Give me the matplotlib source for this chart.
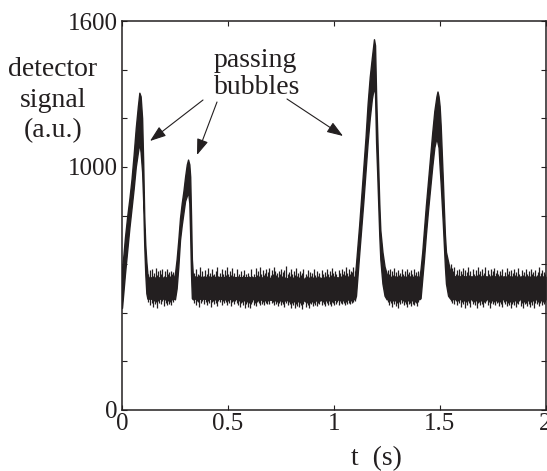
import numpy as np
import matplotlib
matplotlib.use("Agg")
import matplotlib.pyplot as plt

plt.rcParams['font.family'] = ['Liberation Serif', 'DejaVu Serif']

INK = '#231f20'

# ---------------- data ----------------
# dense band of the noisy detector trace: upper / lower edge
# bubble 1
t_pk1 = [0.000, 0.007, 0.014, 0.025, 0.035, 0.045, 0.055, 0.065, 0.075, 0.082,
         0.088, 0.095, 0.100, 0.105, 0.110, 0.115, 0.120]
hi_pk1 = [580, 640, 710, 800, 870, 950, 1050, 1160, 1250, 1305,
          1290, 1200, 1020, 800, 680, 610, 560]
lo_pk1 = [420, 490, 560, 660, 750, 830, 910, 1000, 1060, 1100,
          1060, 980, 860, 680, 560, 480, 458]
# baseline between bubbles (core of the band)
t_core1 = [0.125, 0.245]
hi_core1 = [545, 545]
lo_core1 = [458, 458]
# bubble 2
t_pk2 = [0.250, 0.258, 0.266, 0.274, 0.282, 0.290, 0.298, 0.306, 0.312, 0.318,
         0.322, 0.326, 0.330, 0.335]
hi_pk2 = [560, 620, 700, 790, 850, 900, 960, 1010, 1030, 1010,
          960, 800, 620, 550]
lo_pk2 = [455, 500, 590, 700, 760, 810, 860, 880, 900, 850,
          720, 560, 460, 455]
t_core2 = [0.34, 0.60, 0.85, 1.10]
hi_core2 = [548, 546, 540, 548]
lo_core2 = [458, 456, 450, 456]
# bubble 3
t_pk3 = [1.105, 1.120, 1.130, 1.140, 1.150, 1.160, 1.170, 1.180, 1.190, 1.195,
         1.200, 1.205, 1.210, 1.215, 1.220, 1.230, 1.240, 1.250]
hi_pk3 = [600, 760, 880, 1000, 1120, 1260, 1370, 1450, 1525, 1500,
          1300, 1150, 1000, 850, 740, 650, 590, 560]
lo_pk3 = [470, 640, 750, 860, 980, 1100, 1200, 1280, 1330, 1300,
          1100, 980, 850, 720, 620, 520, 470, 455]
t_core3 = [1.255, 1.405]
hi_core3 = [548, 548]
lo_core3 = [456, 456]
# bubble 4
t_pk4 = [1.410, 1.418, 1.426, 1.435, 1.445, 1.455, 1.465, 1.475, 1.485, 1.490,
         1.495, 1.500, 1.505, 1.510, 1.515, 1.520, 1.525, 1.530, 1.540, 1.550]
hi_pk4 = [580, 650, 740, 840, 940, 1040, 1140, 1230, 1290, 1310,
          1290, 1250, 1170, 1060, 950, 830, 720, 650, 610, 570]
lo_pk4 = [460, 540, 620, 720, 820, 910, 1000, 1080, 1120, 1100,
          1080, 1000, 930, 850, 770, 680, 590, 520, 470, 458]
t_core4 = [1.555, 2.0]
hi_core4 = [550, 548]
lo_core4 = [456, 455]

# noise spikes on the flat parts (sampled every ~5 ms): tips above / below
up_n1 = [560, 575, 545, 580, 550, 565, 540, 585, 555, 570, 548, 575,
         560, 582, 552, 570, 545, 578, 558, 566, 550, 572, 560, 568]
dn_n1 = [445, 430, 455, 440, 425, 450, 435, 445, 420, 450, 440, 455,
         438, 448, 428, 452, 440, 432, 450, 436, 446, 430, 452, 444]

up_n2 = [565, 550, 580, 545, 560, 555, 590, 548, 570, 552,
         575, 545, 560, 585, 550, 565, 548, 578, 555, 560,
         545, 570, 590, 552, 565, 548, 580, 560, 545, 575,
         555, 590, 560, 548, 572, 555, 585, 550, 565, 545,
         578, 552, 560, 540, 570, 548, 555, 575, 545, 560,
         540, 565, 550, 545, 580, 552, 560, 548, 585, 555,
         570, 550, 590, 560, 548, 575, 555, 565, 580, 552,
         568, 585, 555, 575, 560, 590, 570, 556, 562, 548,
         572, 558, 580, 550, 566, 575, 548, 592, 558, 568,
         550, 578, 560, 545, 572, 556, 584, 550, 562, 548,
         570, 555, 565, 580, 548, 560, 552, 574, 546, 566,
         550, 562, 545, 578, 556, 548, 570, 552, 565, 546,
         575, 558, 548, 568, 552, 582, 560, 548, 572, 556,
         585, 562, 550, 570, 558, 548, 575, 565, 552, 580,
         560, 570, 555, 588, 565, 552, 578, 560, 572, 566,
         590, 570]
dn_n2 = [440, 455, 430, 450, 445, 425, 455, 440, 450, 435,
         455, 445, 430, 450, 440, 455, 425, 445, 450, 438,
         452, 440, 428, 450, 445, 455, 432, 448, 440, 452,
         445, 430, 450, 440, 455, 428, 445, 450, 438, 447,
         440, 432, 450, 425, 440, 445, 430, 448, 420, 438,
         445, 425, 440, 418, 438, 445, 430, 440, 428, 445,
         450, 440, 432, 452, 438, 445, 430, 450, 442, 435,
         448, 438, 452, 440, 445, 430, 450, 436, 446, 428,
         442, 450, 432, 445, 438, 425, 448, 440, 430, 446,
         436, 420, 442, 430, 445, 418, 438, 428, 444, 422,
         440, 432, 416, 438, 445, 425, 440, 430, 420, 442,
         435, 446, 428, 440, 432, 448, 426, 442, 436, 450,
         430, 444, 438, 426, 448, 440, 432, 450, 438, 428,
         446, 440, 432, 452, 438, 444, 430, 448, 440, 436,
         450, 442, 430, 446, 438, 452, 440, 434, 448, 440,
         445, 450]

up_n3 = [575, 560, 580, 548, 570, 555, 585, 550, 568, 545, 575, 555, 565, 580, 560,
         552, 570, 548, 582, 558, 566, 550, 574, 560, 548, 578, 556, 568, 552, 572]
dn_n3 = [445, 430, 450, 440, 425, 448, 435, 450, 428, 442, 420, 445, 435, 440, 450,
         432, 446, 438, 424, 448, 436, 442, 428, 450, 438, 430, 446, 440, 426, 444]

up_n4 = [600, 585, 570, 590, 560, 575, 555, 580, 548, 570,
         560, 585, 552, 575, 545, 568, 590, 555, 572, 548,
         580, 560, 545, 575, 555, 588, 560, 570, 548, 582,
         555, 565, 590, 550, 575, 560, 545, 578, 555, 570,
         585, 552, 565, 575, 560, 548, 572, 556, 580, 550,
         566, 548, 584, 558, 570, 552, 575, 546, 562, 580,
         554, 568, 548, 586, 560, 552, 574, 556, 566, 548,
         578, 560, 552, 570, 546, 582, 558, 566, 550, 574,
         556, 568, 588, 552, 562, 575, 550, 566, 560]
dn_n4 = [450, 440, 455, 435, 448, 430, 450, 440, 455, 425,
         445, 438, 450, 420, 445, 432, 448, 440, 425, 450,
         438, 445, 430, 450, 418, 440, 445, 430, 450, 438,
         425, 445, 440, 450, 432, 445, 420, 440, 448, 435,
         445, 430, 450, 440, 445, 428, 446, 436, 422, 444,
         438, 450, 426, 440, 432, 446, 418, 438, 444, 430,
         448, 424, 440, 436, 450, 428, 442, 420, 446, 434,
         440, 428, 450, 438, 424, 444, 432, 448, 420, 440,
         436, 446, 428, 442, 450, 430, 444, 438, 446]

# time span of each noisy flat stretch (s)
span_n1 = (0.125, 0.242)
span_n2 = (0.340, 1.098)
span_n3 = (1.255, 1.400)
span_n4 = (1.555, 1.998)

x_ticks = [0, 0.5, 1, 1.5, 2]
x_tick_labels = ['0', '0.5', '1', '1.5', '2']
y_ticks = [0, 200, 400, 600, 800, 1000, 1200, 1400, 1600]
y_tick_labels = ['0', '', '', '', '', '1000', '', '', '1600']

# ---------------- figure ----------------
W, H = 547, 471
fig = plt.figure(figsize=(W / 100, H / 100), dpi=100)
L, R, T, B = 122, 545.5, 21, 410
ax = fig.add_axes([L / W, 1 - B / H, (R - L) / W, (B - T) / H])

t = np.concatenate([t_pk1, t_core1, t_pk2, t_core2, t_pk3, t_core3, t_pk4, t_core4])
hi = np.concatenate([hi_pk1, hi_core1, hi_pk2, hi_core2, hi_pk3, hi_core3, hi_pk4, hi_core4])
lo = np.concatenate([lo_pk1, lo_core1, lo_pk2, lo_core2, lo_pk3, lo_core3, lo_pk4, lo_core4])
ax.fill_between(t, lo, hi, color=INK, lw=1.0, edgecolor=INK)

for span, up, dn in [(span_n1, up_n1, dn_n1), (span_n2, up_n2, dn_n2),
                     (span_n3, up_n3, dn_n3), (span_n4, up_n4, dn_n4)]:
    tn = np.linspace(span[0], span[1], len(up))
    ax.vlines(tn, dn, up, color=INK, lw=0.9)

ax.set_xlim(0, 2)
ax.set_ylim(0, 1600)
ax.set_xticks(x_ticks)
ax.set_xticklabels(x_tick_labels)
ax.set_yticks(y_ticks)
ax.set_yticklabels(y_tick_labels)
ax.tick_params(direction='in', length=3.6, width=0.8, colors=INK,
               top=True, right=True, labelsize=18)
ax.tick_params(axis='x', pad=2)
ax.tick_params(axis='y', pad=3)
for s in ax.spines.values():
    s.set_linewidth(1.1)
    s.set_color(INK)

def ftext(x, y, s, **kw):
    fig.text(x / W, 1 - y / H, s, fontsize=20, color=INK, va='baseline', **kw)

ftext(53, 76, 'detector', ha='center')
ftext(53, 107, 'signal', ha='center')
ftext(53, 137, '(a.u.)', ha='center')
ftext(255, 67, 'passing', ha='center')
ftext(257, 94, 'bubbles', ha='center')
ftext(376, 465, 't  (s)', ha='center')

def arrow(x0, y0, x1, y1):
    ax.annotate('', xy=(x1, H - y1), xytext=(x0, H - y0),
                xycoords='figure pixels', textcoords='figure pixels',
                arrowprops=dict(arrowstyle='-|>,head_length=0.7,head_width=0.25',
                                lw=0.8, color=INK, mutation_scale=14,
                                shrinkA=0, shrinkB=0))

arrow(203, 100, 150, 141)
arrow(217, 102, 197, 155)
arrow(287, 99, 343, 136)

fig.savefig('out.png', dpi=100)
